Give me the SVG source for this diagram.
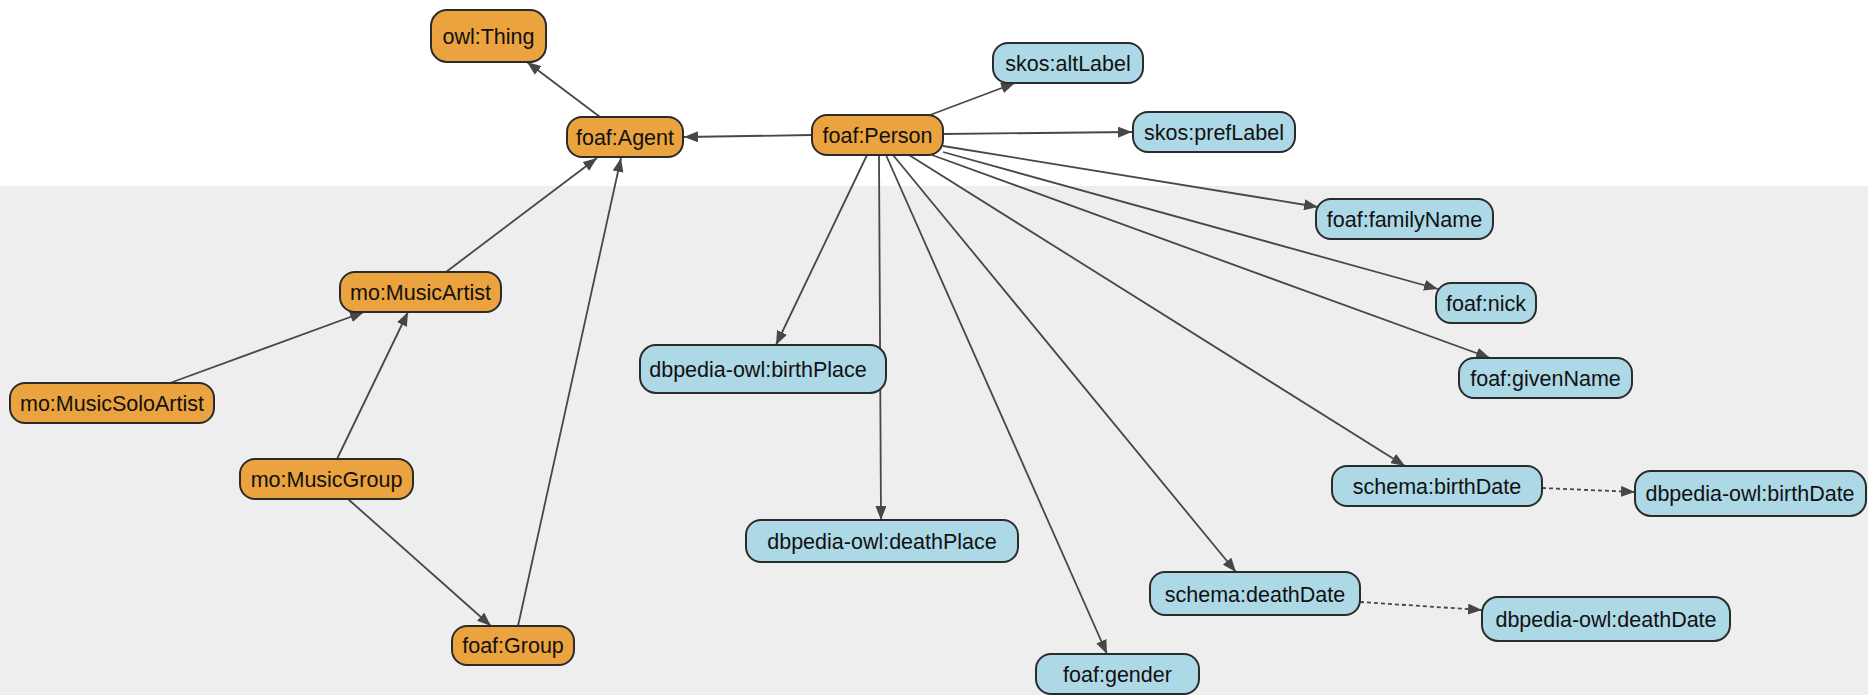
<svg xmlns="http://www.w3.org/2000/svg" width="1868" height="695" viewBox="0 0 1868 695">
  <style>
    .node rect { stroke: #2b2b2b; stroke-width: 2; }
    .cls rect { fill: #eaa33e; }
    .prop rect { fill: #add8e6; }
    .node text { font-family: "Liberation Sans", Arial, sans-serif; font-size: 21.5px; fill: #111; text-anchor: middle; }
    .edge { stroke: #474747; stroke-width: 1.8; fill: none; marker-end: url(#arrow); }
    .edge.dashed { stroke-dasharray: 4 3; }
  </style>
  <defs>
    <marker id="arrow" markerUnits="userSpaceOnUse" markerWidth="14" markerHeight="11" refX="14" refY="5.5" orient="auto">
      <path d="M0,0 L14,5.5 L0,11 z" fill="#474747"/>
    </marker>
  </defs>

  <!-- background bands -->
  <rect x="0" y="0" width="1868" height="186" fill="#ffffff"/>
  <rect x="0" y="186" width="1868" height="509" fill="#eeeeee"/>

  <!-- connectors -->
  <g id="connectors">
    <line class="edge" x1="600" y1="117" x2="527" y2="62"/>
    <line class="edge" x1="812" y1="135" x2="684" y2="137"/>
    <line class="edge" x1="930" y1="115" x2="1015" y2="83"/>
    <line class="edge" x1="943" y1="134" x2="1132" y2="132"/>
    <line class="edge" x1="943" y1="146" x2="1318" y2="207"/>
    <line class="edge" x1="943" y1="152" x2="1438" y2="289"/>
    <line class="edge" x1="932" y1="155" x2="1490" y2="358"/>
    <line class="edge" x1="909" y1="155" x2="1405" y2="466"/>
    <line class="edge" x1="893" y1="155" x2="1236" y2="572"/>
    <line class="edge" x1="886" y1="155" x2="1107" y2="654"/>
    <line class="edge" x1="879" y1="155" x2="881" y2="520"/>
    <line class="edge" x1="867" y1="155" x2="776" y2="345"/>
    <line class="edge" x1="446" y1="272" x2="597" y2="158"/>
    <line class="edge" x1="518" y1="626" x2="621" y2="158"/>
    <line class="edge" x1="170" y1="383" x2="364" y2="312"/>
    <line class="edge" x1="337" y1="459" x2="408" y2="312"/>
    <line class="edge" x1="348" y1="499" x2="491" y2="626"/>
    <line class="edge dashed" x1="1542" y1="488" x2="1635" y2="492"/>
    <line class="edge dashed" x1="1360" y1="602" x2="1482" y2="610"/>
  </g>

  <!-- class nodes -->
  <g id="owl-thing" class="node cls"><rect x="431" y="10" width="115" height="52" rx="16"/><text x="488.5" y="44">owl:Thing</text></g>
  <g id="foaf-agent" class="node cls"><rect x="567" y="117" width="116" height="40" rx="15"/><text x="625" y="145">foaf:Agent</text></g>
  <g id="foaf-person" class="node cls"><rect x="812" y="115" width="131" height="40" rx="15"/><text x="877.5" y="143">foaf:Person</text></g>
  <g id="mo-musicartist" class="node cls"><rect x="340" y="272" width="161" height="40" rx="15"/><text x="420.5" y="300">mo:MusicArtist</text></g>
  <g id="mo-musicsoloartist" class="node cls"><rect x="10" y="383" width="204" height="40" rx="15"/><text x="112" y="411">mo:MusicSoloArtist</text></g>
  <g id="mo-musicgroup" class="node cls"><rect x="240" y="459" width="173" height="40" rx="15"/><text x="326.5" y="487">mo:MusicGroup</text></g>
  <g id="foaf-group" class="node cls"><rect x="452" y="626" width="122" height="39" rx="15"/><text x="513" y="653">foaf:Group</text></g>

  <!-- property nodes -->
  <g id="skos-altlabel" class="node prop"><rect x="993" y="43" width="150" height="40" rx="15"/><text x="1068" y="71">skos:altLabel</text></g>
  <g id="skos-preflabel" class="node prop"><rect x="1133" y="112" width="162" height="40" rx="15"/><text x="1214" y="140">skos:prefLabel</text></g>
  <g id="foaf-familyname" class="node prop"><rect x="1316" y="199" width="177" height="40" rx="15"/><text x="1404.5" y="227">foaf:familyName</text></g>
  <g id="foaf-nick" class="node prop"><rect x="1436" y="283" width="100" height="40" rx="15"/><text x="1486" y="311">foaf:nick</text></g>
  <g id="foaf-givenname" class="node prop"><rect x="1459" y="358" width="173" height="40" rx="15"/><text x="1545.5" y="386">foaf:givenName</text></g>
  <g id="schema-birthdate" class="node prop"><rect x="1332" y="466" width="210" height="40" rx="15"/><text x="1437" y="494">schema:birthDate</text></g>
  <g id="dbpedia-owl-birthdate" class="node prop"><rect x="1635" y="471" width="231" height="45" rx="16"/><text x="1750" y="501">dbpedia-owl:birthDate</text></g>
  <g id="schema-deathdate" class="node prop"><rect x="1150" y="572" width="210" height="43" rx="15"/><text x="1255" y="602">schema:deathDate</text></g>
  <g id="dbpedia-owl-deathdate" class="node prop"><rect x="1482" y="597" width="248" height="44" rx="16"/><text x="1606" y="627">dbpedia-owl:deathDate</text></g>
  <g id="foaf-gender" class="node prop"><rect x="1036" y="654" width="163" height="40" rx="15"/><text x="1117.5" y="682">foaf:gender</text></g>
  <g id="dbpedia-owl-deathplace" class="node prop"><rect x="746" y="520" width="272" height="42" rx="15"/><text x="882" y="549">dbpedia-owl:deathPlace</text></g>
  <g id="dbpedia-owl-birthplace" class="node prop"><rect x="640" y="345" width="246" height="48" rx="16"/><text x="758" y="377">dbpedia-owl:birthPlace</text></g>
</svg>
